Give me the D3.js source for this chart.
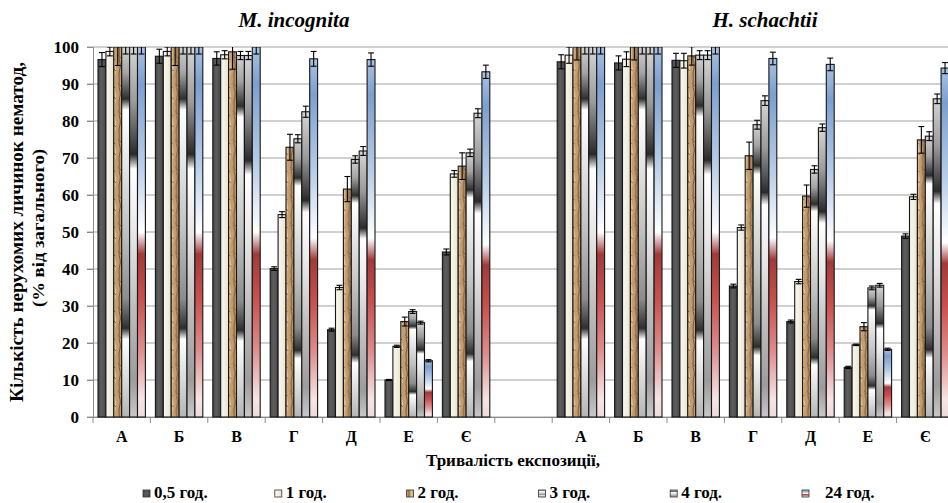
<!DOCTYPE html>
<html>
<head>
<meta charset="utf-8">
<script src="https://cdn.jsdelivr.net/npm/d3@7/dist/d3.min.js"></script>
<style>
  body { margin: 0; background: #fff; }
  text { font-family: "Liberation Serif", "Times New Roman", serif; font-weight: bold; fill: #000; }
</style>
</head>
<body>
<div id="chart"></div>
<script>
// categories and series
var categories = ["А", "Б", "В", "Г", "Д", "Е", "Є"];
var series = ["0,5 год.", "1 год.", "2 год.", "3 год.", "4 год.", "24 год."];
var species = ["M. incognita", "H. schachtii"];
var yTicks = [0, 10, 20, 30, 40, 50, 60, 70, 80, 90, 100];

// M. incognita, % of immobile larvae
var incog05 = [96.6, 97.5, 96.9, 40.1, 23.6, 10.0, 44.6];
var incog1  = [98.8, 98.8, 97.9, 54.7, 35.0, 19.1, 65.7];
var incog2  = [100, 100, 98.7, 72.9, 61.6, 25.8, 67.8];
var incog3  = [100, 100, 97.7, 75.2, 69.6, 28.5, 71.4];
var incog4  = [100, 100, 97.7, 82.5, 71.9, 25.5, 82.1];
var incog24 = [100, 100, 100, 96.8, 96.6, 15.2, 93.3];
// error values
var incogErr05 = [1.9, 1.9, 1.8, 0.5, 0.4, 0.15, 0.8];
var incogErr1  = [1.2, 1.2, 1.1, 0.8, 0.6, 0.3, 0.9];
var incogErr2  = [5.0, 5.0, 4.7, 3.5, 3.4, 1.2, 3.6];
var incogErr3  = [1.9, 1.9, 1.1, 1.1, 1.0, 0.5, 1.0];
var incogErr4  = [1.9, 1.9, 1.1, 1.5, 1.2, 0.4, 1.2];
var incogErr24 = [1.9, 1.9, 1.9, 2.0, 1.8, 0.3, 1.8];

// H. schachtii
var sch05 = [96.0, 95.7, 96.4, 35.4, 25.8, 13.4, 48.9];
var sch1  = [97.8, 96.7, 96.3, 51.2, 36.6, 19.5, 59.5];
var sch2  = [100, 100, 97.6, 70.6, 59.7, 24.4, 74.9];
var sch3  = [100, 100, 97.8, 79.0, 66.9, 34.9, 75.9];
var sch4  = [100, 100, 97.8, 85.5, 78.2, 35.6, 86.0];
var sch24 = [100, 100, 100, 96.9, 95.3, 18.3, 94.3];
var schErr05 = [1.9, 1.9, 1.9, 0.5, 0.4, 0.3, 0.6];
var schErr1  = [2.2, 2.0, 2.0, 0.7, 0.6, 0.2, 0.7];
var schErr2  = [3.5, 3.5, 2.5, 3.7, 3.0, 1.1, 3.6];
var schErr3  = [1.9, 1.9, 1.2, 1.2, 1.0, 0.5, 1.2];
var schErr4  = [1.9, 1.9, 1.2, 1.3, 1.0, 0.5, 1.3];
var schErr24 = [1.9, 1.9, 1.9, 1.7, 1.7, 0.3, 1.5];

var incogValues = [incog05, incog1, incog2, incog3, incog4, incog24];
var incogErrors = [incogErr05, incogErr1, incogErr2, incogErr3, incogErr4, incogErr24];
var schValues = [sch05, sch1, sch2, sch3, sch4, sch24];
var schErrors = [schErr05, schErr1, schErr2, schErr3, schErr4, schErr24];

// one slot per category, blank slot between the two species
var slots = [];
categories.forEach(function(c, i) {
    slots.push({key: "m" + i, label: c, bars: series.map(function(s, k) {
        return {s: s, k: k, v: incogValues[k][i], e: incogErrors[k][i]};
    })});
});
slots.push({key: "gap", label: "", bars: []});
categories.forEach(function(c, i) {
    slots.push({key: "s" + i, label: c, bars: series.map(function(s, k) {
        return {s: s, k: k, v: schValues[k][i], e: schErrors[k][i]};
    })});
});

var margin = {top: 47, left: 93};
var width = 861;
var height = 370;

var svg = d3.select("#chart")
    .append("svg")
        .attr("width", 948)
        .attr("height", 503);

// fills
var defs = svg.append("defs");

function vGrad(id, stops, horizontal) {
    var g = defs.append("linearGradient").attr("id", id)
        .attr("x1", 0).attr("y1", 0)
        .attr("x2", horizontal ? 1 : 0).attr("y2", horizontal ? 0 : 1);
    stops.forEach(function(s) {
        g.append("stop").attr("offset", s[0]).attr("stop-color", s[1]);
    });
}
vGrad("g05", [[0, "#484848"], [0.45, "#5e5e5e"], [1, "#464646"]], true);
vGrad("g1", [[0, "#f9f7ee"], [0.5, "#f2efe2"], [1, "#e6e2d2"]], true);
vGrad("g3", [[0, "#d2d2d2"], [0.07, "#a4a4a4"], [0.14, "#2e2e2e"], [0.17, "#ffffff"],
             [0.3, "#e8e8e8"], [0.5, "#c0c0c0"], [0.68, "#8c8c8c"], [0.76, "#2e2e2e"],
             [0.79, "#ffffff"], [0.9, "#d8d8d8"], [1, "#b5b5b5"]]);
vGrad("g4", [[0, "#d6d6d6"], [0.15, "#9a9a9a"], [0.29, "#2a2a2a"], [0.33, "#ffffff"],
             [0.5, "#e8e8e8"], [0.7, "#bebebe"], [0.9, "#9c9c9c"], [1, "#c8c8c8"]]);
vGrad("g24", [[0, "#a9c2e1"], [0.1, "#7d9fcf"], [0.32, "#b9cee8"], [0.5, "#ffffff"],
              [0.56, "#a23a3a"], [0.68, "#c95050"], [0.82, "#de8e8e"], [0.95, "#f6e4e4"], [1, "#eedada"]]);

// wood-like texture for 2 h
var wood = defs.append("pattern").attr("id", "wood")
    .attr("patternUnits", "userSpaceOnUse")
    .attr("width", 8).attr("height", 28);
wood.append("rect").attr("width", 8).attr("height", 28).attr("fill", "#c39c70");
wood.append("path").attr("d", "M5,0 C6,7 4,12 6,19 C7,23 5,26 6,28")
    .attr("fill", "none").attr("stroke", "#e6cba0").attr("stroke-width", 1.6);
wood.append("path").attr("d", "M2,0 C3,6 1,11 3,16 C4,20 2,24 2,28")
    .attr("fill", "none").attr("stroke", "#74502f").attr("stroke-width", 1);
wood.append("path").attr("d", "M1,8 L6,13 M3,20 L7,24")
    .attr("fill", "none").attr("stroke", "#855c37").attr("stroke-width", 0.9);

var fills = ["url(#g05)", "url(#g1)", "url(#wood)", "url(#g3)", "url(#g4)", "url(#g24)"];

defs.append("clipPath").attr("id", "plotClip")
    .append("rect").attr("x", -10).attr("y", 0).attr("width", width + 20).attr("height", height + 1);

var g = svg.append("g")
    .attr("transform", "translate(" + margin.left + "," + margin.top + ")");

var x0 = d3.scaleBand()
    .domain(slots.map(function(d) { return d.key; }))
    .range([0, width]);

var x1 = d3.scaleBand()
    .domain(series)
    .range([5, x0.bandwidth() - 5]);

var y = d3.scaleLinear()
    .domain([0, 100])
    .range([height, 0]);

// grid lines
g.append("g").selectAll("line.grid")
    .data(yTicks)
    .enter().append("line")
    .attr("class", "grid")
    .attr("x1", -6).attr("x2", width)
    .attr("y1", function(d) { return y(d); })
    .attr("y2", function(d) { return y(d); })
    .attr("stroke", "#a2a2a2")
    .attr("stroke-width", 1.2);

// y axis
var yAxis = g.append("g")
    .call(d3.axisLeft(y).tickValues(yTicks).tickSize(6).tickPadding(8));
yAxis.select(".domain").attr("stroke", "#8c8c8c");
yAxis.selectAll(".tick line").attr("stroke", "#8c8c8c");
yAxis.selectAll("text")
    .style("font-size", "17px")
    .style("font-family", "'Liberation Serif', serif")
    .style("font-weight", "bold")
    .attr("fill", "#000");

// x axis (labels only, ticks at slot boundaries below)
var xAxis = g.append("g")
    .attr("transform", "translate(0," + height + ")")
    .call(d3.axisBottom(x0).tickSize(0).tickFormat(function(k) {
        return slots.find(function(d) { return d.key === k; }).label;
    }));
xAxis.select(".domain").attr("stroke", "#8c8c8c");
xAxis.selectAll("text")
    .attr("dy", null)
    .attr("y", 25)
    .style("font-size", "16px")
    .style("font-family", "'Liberation Serif', serif")
    .style("font-weight", "bold")
    .attr("fill", "#000");

xAxis.selectAll("line.bound")
    .data(d3.range(slots.length + 1))
    .enter().append("line")
    .attr("class", "bound")
    .attr("x1", function(i) { return x0.step() * i; })
    .attr("x2", function(i) { return x0.step() * i; })
    .attr("y1", 0).attr("y2", 6)
    .attr("stroke", "#8c8c8c");

// bars
var groups = g.append("g").attr("clip-path", "url(#plotClip)")
    .selectAll("g.slot")
    .data(slots)
    .enter().append("g")
    .attr("class", "slot")
    .attr("transform", function(d) { return "translate(" + x0(d.key) + ",0)"; });

groups.selectAll("rect.bar")
    .data(function(d) { return d.bars; })
    .enter().append("rect")
    .attr("class", "bar")
    .attr("x", function(d) { return x1(d.s); })
    .attr("y", function(d) { return y(d.v); })
    .attr("width", x1.bandwidth())
    .attr("height", function(d) { return height - y(d.v); })
    .attr("fill", function(d) { return fills[d.k]; })
    .attr("stroke", "#161616")
    .attr("stroke-width", 1.1);

// error bars
var cap = x1.bandwidth() / 2 - 1;
var err = groups.selectAll("g.err")
    .data(function(d) { return d.bars; })
    .enter().append("g")
    .attr("class", "err")
    .attr("transform", function(d) { return "translate(" + (x1(d.s) + x1.bandwidth() / 2) + ",0)"; })
    .attr("stroke", "#000")
    .attr("stroke-width", 1.1);
err.append("line")
    .attr("y1", function(d) { return y(d.v + d.e); })
    .attr("y2", function(d) { return y(d.v - d.e); });
err.append("line")
    .attr("x1", -cap).attr("x2", cap)
    .attr("y1", function(d) { return y(d.v + d.e); })
    .attr("y2", function(d) { return y(d.v + d.e); });
err.append("line")
    .attr("x1", -cap).attr("x2", cap)
    .attr("y1", function(d) { return y(d.v - d.e); })
    .attr("y2", function(d) { return y(d.v - d.e); });

// titles
svg.selectAll("text.species")
    .data(species)
    .enter().append("text")
    .attr("class", "species")
    .attr("x", function(d, i) { return i === 0 ? 294 : 765; })
    .attr("y", 27)
    .style("text-anchor", "middle")
    .style("font-size", "21px")
    .style("font-style", "italic")
    .text(function(d) { return d; });

// y axis title
svg.append("text")
    .attr("transform", "translate(23," + (margin.top + height / 2) + ") rotate(-90)")
    .style("text-anchor", "middle")
    .style("font-size", "18px")
    .attr("textLength", 340)
    .attr("lengthAdjust", "spacingAndGlyphs")
    .text("Кількість нерухомих личинок  нематод,");

svg.append("text")
    .attr("transform", "translate(44," + (margin.top + height / 2 - 4) + ") rotate(-90)")
    .style("text-anchor", "middle")
    .style("font-size", "17px")
    .attr("textLength", 158)
    .attr("lengthAdjust", "spacingAndGlyphs")
    .text("(% від загального)");

// x axis title
svg.append("text")
    .attr("x", 513)
    .attr("y", 466)
    .style("text-anchor", "middle")
    .style("font-size", "17px")
    .text("Тривалість експозиції,");

// legend
var legend = svg.append("g").attr("transform", "translate(143,490)");
var item = legend.selectAll("g.item")
    .data(series)
    .enter().append("g")
    .attr("class", "item")
    .attr("transform", function(d, i) { return "translate(" + (i * 131.8) + ",0)"; });
item.append("rect")
    .attr("width", 7).attr("height", 7)
    .attr("fill", function(d, i) { return fills[i]; })
    .attr("stroke", "#333")
    .attr("stroke-width", 0.8);
item.append("text")
    .attr("x", function(d, i) { return i === 5 ? 23 : 11; })
    .attr("y", 8)
    .style("font-size", "17px")
    .text(function(d) { return d; });
</script>
</body>
</html>
